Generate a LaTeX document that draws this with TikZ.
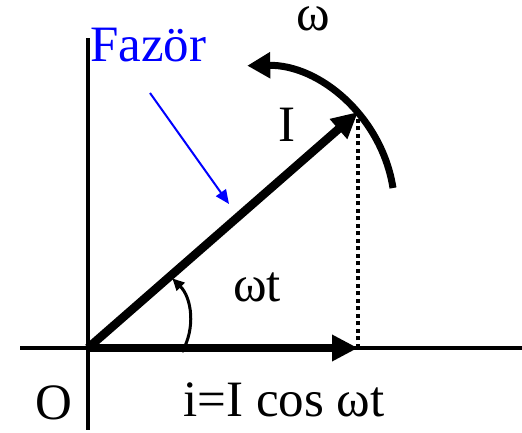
\documentclass[tikz,border=0pt]{standalone}
\usepackage{fontspec}
\setmainfont{Liberation Serif}
\usepackage{xcolor}
\usetikzlibrary{arrows.meta}

\begin{document}
\begin{tikzpicture}[
  x=1pt, y=1pt,
  lbl/.style  = {inner sep=0pt, font=\fontsize{51}{51}\selectfont},
  axis/.style = {line width=3.8pt},
  vec/.style  = {line width=8.5pt, -{Triangle[length=26pt,width=25pt]}},
  rot/.style  = {line width=7pt, -{Triangle[length=23pt,width=25pt]}},
  ang/.style  = {line width=3pt, -{Triangle[length=12pt,width=11pt]}},
  pnt/.style  = {line width=2pt, blue, -{Triangle[length=14pt,width=12pt]}},
  proj/.style = {line width=4pt, dash pattern=on 4pt off 3.5pt},
]
\useasboundingbox (0,0) rectangle (522,433);
\coordinate (o)    at (88,85);
\coordinate (tip)  at (358,321);
\coordinate (foot) at (358,85);
\coordinate (ytop) at (88,395);
\coordinate (ybot) at (88,3);
\coordinate (xl)   at (20,85);
\coordinate (xr)   at (522,85);
\coordinate (wbeg) at (393,245);
\coordinate (abeg) at (182,81);
\coordinate (ptail) at (150,340);
\coordinate (phead) at (229,229);
% axes
\draw[axis] (ybot)--(ytop);
\draw[axis] (xl)--(xr);
% projection and vectors
\draw[proj] (foot)--(tip);
\draw[vec] (o)--(foot);
\draw[vec] (o)--(tip);
\draw[rot] (wbeg) arc[start angle=9, end angle=91, radius=145];
\draw[ang] (abeg) arc[start angle=-30, end angle=45, radius=61];
\draw[pnt] (ptail)--(phead);
% labels
\node[lbl, blue, anchor=base west] (fazor) at (90,371) {Fazör};
\node[lbl, anchor=base] (omega) at (313,402) {ω};
\node[lbl, anchor=base] (ilbl)  at (287,291) {I};
\node[lbl, anchor=base] (wt)    at (257,131) {ωt};
\node[lbl, anchor=base] (olbl)  at (54,13) {O};
\node[lbl, anchor=base] (cos)   at (284,16) {i=I cos ωt};
\end{tikzpicture}
\end{document}
